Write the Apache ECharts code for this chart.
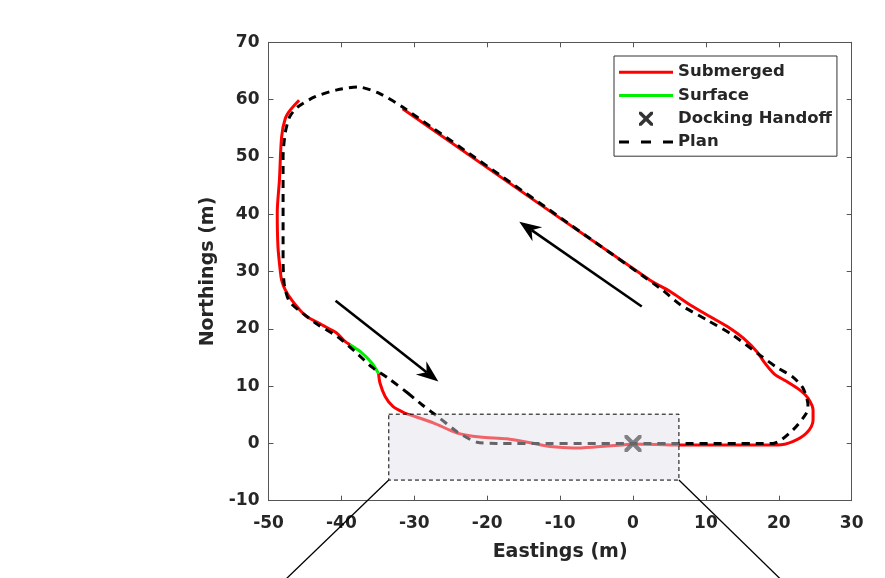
<!DOCTYPE html>
<html>
<head>
<meta charset="utf-8">
<script src="https://cdn.jsdelivr.net/npm/echarts@6/dist/echarts.min.js"></script>
<style>
html,body{margin:0;padding:0;background:#fff;}
#chart{width:885px;height:578px;}
</style>
</head>
<body>
<div id="chart"></div>
<script>
// ---- Data (Eastings, Northings in metres) ----
const xTicks = [-50, 30, 10];   // min, max, step
const yTicks = [-10, 70, 10];

const planPath = [
  [-30.9, 8.8], [-28.9, 6.7], [-26.5, 4.4], [-24.1, 2.0], [-21.4, 0.2], [-18.7, 0], [0, 0], [19.2, 0],
  [21.9, 2.3], [23.8, 5.3], [24.0, 6.7], [23.3, 9.7], [21.9, 11.6], [19.7, 13.3], [17.4, 15.4],
  [13.7, 18.9], [10.2, 21.5], [6.5, 24.2], [3.7, 27.1], [-31.6, 58.7], [-35.0, 61.2], [-37.7, 62.2],
  [-40.6, 61.7], [-43.6, 60.5], [-46.0, 58.7], [-47.1, 57.0], [-47.7, 54.2], [-48.0, 50.0],
  [-48.0, 46.0], [-48.0, 32.0], [-47.9, 28.5], [-47.7, 26.8], [-47.1, 24.7], [-45.4, 22.8],
  [-43.2, 20.7], [-40.5, 18.6], [-38.1, 16.0], [-35.8, 13.3], [-33.6, 11.4], [-30.9, 8.8]
];

const submergedPathA = [
  [-45.8, 59.9], [-47.0, 58.2], [-47.7, 56.7], [-48.2, 53.5], [-48.5, 46.0], [-48.8, 40.2],
  [-48.7, 34.3], [-48.4, 30.3], [-48.2, 28.5], [-47.7, 26.8], [-46.8, 25.0], [-45.0, 22.4],
  [-42.7, 20.7], [-40.7, 19.3], [-39.5, 17.8], [-38.8, 17.2]
];

const surfacePath = [
  [-38.8, 17.2], [-37.2, 15.8], [-35.8, 14.0], [-34.9, 12.2]
];

const submergedPathB = [
  [-34.9, 12.2], [-34.7, 10.5], [-34.0, 8.2], [-32.9, 6.4], [-31.3, 5.3], [-29.9, 4.7],
  [-27.4, 3.6], [-24.1, 1.8], [-21.0, 1.1], [-17.3, 0.8], [-14.1, 0.1], [-11.0, -0.6],
  [-8.2, -0.8], [-4.9, -0.6], [-1.4, -0.3], [0, -0.1], [6.5, -0.3], [19.8, -0.3], [21.9, 0.3],
  [23.8, 1.8], [24.7, 4.1], [24.7, 5.8], [24.0, 7.9], [22.9, 9.3], [21.1, 10.8], [19.4, 12.1],
  [18.1, 14.0], [17.0, 16.0], [15.1, 18.4], [13.3, 20.1], [10.6, 22.1], [7.8, 24.2], [5.1, 26.5],
  [2.3, 28.5], [-31.6, 58.4]
];

const dockingHandoff = [[0, 0]];

// zoom box: [xMin, yMin, xMax, yMax]
const zoomBox = [[-33.5, -6.4, 6.3, 5.1]];
// connector lines leaving the zoom box: [x0, y0, x1, y1]
const connectorLines = [[-33.5, -6.4, -49.5, -26.0], [6.3, -6.4, 22.1, -26.0]];
// direction arrows: [xStart, yStart, xTip, yTip]
const directionArrows = [[-40.8, 24.9, -26.7, 10.8], [1.2, 23.9, -15.6, 38.7]];

const legendNames = ['Submerged', 'Surface', 'Docking Handoff', 'Plan'];

// ---- Chart ----
const TXT = '#262626';
const FONT = '"DejaVu Sans", sans-serif';
const xPath = 'path://M0,0 L3.5,0 L10,6.5 L16.5,0 L20,0 L20,3.5 L13.5,10 L20,16.5 L20,20 L16.5,20 L10,13.5 L3.5,20 L0,20 L0,16.5 L6.5,10 L0,3.5 Z';
const solidIcon = 'path://M0,0 H54 V3 H0 Z';
const dashIcon = 'path://M0,0 H10 V3 H0 Z M22,0 H32 V3 H22 Z M44,0 H54 V3 H44 Z';

const chart = echarts.init(document.getElementById('chart'), null, {renderer: 'canvas'});

function axisCommon() {
  return {
    type: 'value',
    axisLine: {show: true, onZero: false, lineStyle: {color: '#555', width: 1}},
    axisTick: {show: true, inside: true, length: 5, lineStyle: {color: '#555', width: 1}},
    splitLine: {show: false}
  };
}

const option = {
  backgroundColor: '#fff',
  animation: false,
  grid: {left: 268.5, right: 33.3, top: 42.3, bottom: 77.3, containLabel: false, outerBoundsMode: 'none'},
  xAxis: [
    Object.assign(axisCommon(), {
      min: xTicks[0], max: xTicks[1], interval: xTicks[2], position: 'bottom',
      name: 'Eastings (m)', nameLocation: 'middle', nameGap: 42,
      nameTextStyle: {color: TXT, fontFamily: FONT, fontWeight: 'bold', fontSize: 19},
      axisLabel: {color: TXT, fontFamily: FONT, fontWeight: 'bold', fontSize: 17, margin: 14}
    }),
    Object.assign(axisCommon(), {
      min: xTicks[0], max: xTicks[1], interval: xTicks[2], position: 'top',
      axisLabel: {show: false}
    })
  ],
  yAxis: [
    Object.assign(axisCommon(), {
      min: yTicks[0], max: yTicks[1], interval: yTicks[2], position: 'left',
      name: 'Northings (m)', nameLocation: 'middle', nameGap: 46,
      nameTextStyle: {color: TXT, fontFamily: FONT, fontWeight: 'bold', fontSize: 19},
      axisLabel: {color: TXT, fontFamily: FONT, fontWeight: 'bold', fontSize: 17, margin: 9}
    }),
    Object.assign(axisCommon(), {
      min: yTicks[0], max: yTicks[1], interval: yTicks[2], position: 'right',
      axisLabel: {show: false}
    })
  ],
  legend: {
    orient: 'vertical',
    left: 614, top: 56,
    padding: [7, 5, 5, 5],
    itemGap: 5,
    itemWidth: 54, itemHeight: 14,
    backgroundColor: '#fff',
    borderColor: '#333', borderWidth: 1,
    textStyle: {color: TXT, fontFamily: FONT, fontWeight: 'bold', fontSize: 16.5, lineHeight: 18.3},
    data: [
      {name: legendNames[0], icon: solidIcon, itemStyle: {color: '#ff0000'}},
      {name: legendNames[1], icon: solidIcon, itemStyle: {color: '#00ee00'}},
      {name: legendNames[2], icon: xPath, itemStyle: {color: '#000'}},
      {name: legendNames[3], icon: dashIcon, itemStyle: {color: '#000'}}
    ]
  },
  series: [
    {
      name: legendNames[0], type: 'line', data: submergedPathA, symbol: 'none', z: 2,
      lineStyle: {color: '#ff0000', width: 3}, itemStyle: {color: '#ff0000'}, smooth: 0.3
    },
    {
      name: legendNames[0], type: 'line', data: submergedPathB, symbol: 'none', z: 2,
      lineStyle: {color: '#ff0000', width: 3}, itemStyle: {color: '#ff0000'}, smooth: 0.3
    },
    {
      name: legendNames[1], type: 'line', data: surfacePath, symbol: 'none', z: 3,
      lineStyle: {color: '#00ee00', width: 3}, itemStyle: {color: '#00ee00'}, smooth: 0.3
    },
    {
      name: legendNames[3], type: 'line', data: planPath, symbol: 'none', z: 4,
      lineStyle: {color: '#000', width: 3, type: [8, 6]}, itemStyle: {color: '#000'}, smooth: 0.25
    },
    {
      name: legendNames[2], type: 'scatter', data: dockingHandoff, symbol: xPath, symbolSize: 17, z: 5,
      itemStyle: {color: '#000'}
    },
    {
      name: 'zoomBox', type: 'custom', data: zoomBox, z: 6, silent: true,
      encode: {x: [0, 2], y: [1, 3]},
      renderItem: function (params, api) {
        const p0 = api.coord([api.value(0), api.value(1)]);
        const p1 = api.coord([api.value(2), api.value(3)]);
        return {
          type: 'rect',
          shape: {x: Math.min(p0[0], p1[0]), y: Math.min(p0[1], p1[1]),
                  width: Math.abs(p1[0] - p0[0]), height: Math.abs(p1[1] - p0[1])},
          style: {fill: 'rgba(222,222,233,0.45)', stroke: '#000', lineWidth: 1, lineDash: [4, 3]}
        };
      }
    },
    {
      name: 'connectors', type: 'custom', data: connectorLines, z: 6, silent: true, clip: false,
      encode: {x: [0, 2], y: [1, 3]},
      renderItem: function (params, api) {
        const p0 = api.coord([api.value(0), api.value(1)]);
        const p1 = api.coord([api.value(2), api.value(3)]);
        return {type: 'line', shape: {x1: p0[0], y1: p0[1], x2: p1[0], y2: p1[1]},
                style: {stroke: '#000', lineWidth: 1.3}};
      }
    },
    {
      name: 'arrows', type: 'custom', data: directionArrows, z: 7, silent: true,
      encode: {x: [0, 2], y: [1, 3]},
      renderItem: function (params, api) {
        const s = api.coord([api.value(0), api.value(1)]);
        const t = api.coord([api.value(2), api.value(3)]);
        const dx = t[0] - s[0], dy = t[1] - s[1];
        const len = Math.sqrt(dx * dx + dy * dy);
        const ux = dx / len, uy = dy / len, nx = -uy, ny = ux;
        const L = 22, W = 8.5, N = 15;
        const back = [t[0] - L * ux, t[1] - L * uy];
        const notch = [t[0] - N * ux, t[1] - N * uy];
        return {
          type: 'group',
          children: [
            {type: 'line', shape: {x1: s[0], y1: s[1], x2: notch[0], y2: notch[1]},
             style: {stroke: '#000', lineWidth: 2.6}},
            {type: 'polygon', shape: {points: [t, [back[0] + W * nx, back[1] + W * ny], notch,
                                              [back[0] - W * nx, back[1] - W * ny]]},
             style: {fill: '#000'}}
          ]
        };
      }
    }
  ]
};
chart.setOption(option);
</script>
</body>
</html>
